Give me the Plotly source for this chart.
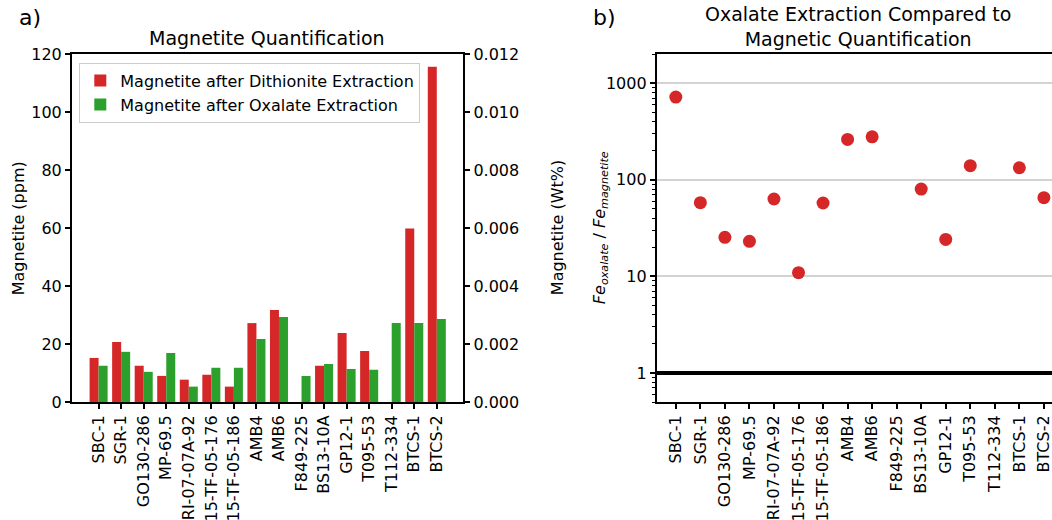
import plotly.graph_objects as go

# ---------------------------------------------------------------------------
# Data
# ---------------------------------------------------------------------------
SAMPLES = ["SBC-1", "SGR-1", "GO130-286", "MP-69.5", "RI-07-07A-92",
           "15-TF-05-176", "15-TF-05-186", "AMB4", "AMB6", "F849-225",
           "BS13-10A", "GP12-1", "T095-53", "T112-334", "BTCS-1", "BTCS-2"]

DITHIONITE_PPM = [15.2, 20.7, 12.5, 9.0, 7.7, 9.4, 5.3, 27.2, 31.7, 0.0,
                  12.5, 23.8, 17.6, 0.0, 59.8, 115.6]
OXALATE_PPM = [12.5, 17.3, 10.4, 16.9, 5.3, 11.8, 11.8, 21.7, 29.3, 9.0,
               13.1, 11.4, 11.1, 27.2, 27.2, 28.6]

FE_RATIO = [716, 57.8, 25.3, 23.0, 63.1, 10.9, 57.4, 261, 278, None,
            80, 24.1, 139.6, None, 133, 65.1]

RED = "#d62728"
GREEN = "#2ca02c"
FONT = "DejaVu Sans"
TICK_SIZE = 16

# plot-area geometry (pixels)
L, T, B = 71.7, 54.3, 117.7
W = 1052 - L
H = 520 - T - B


def px_x(x):
    return (x - L) / W


def px_y(y):
    return (520 - B - y) / H


# ---------------------------------------------------------------------------
# Figure
# ---------------------------------------------------------------------------
idx = list(range(len(SAMPLES)))
fig = go.Figure()

fig.add_trace(go.Bar(x=idx, y=DITHIONITE_PPM,
                     name="Magnetite after Dithionite Extraction",
                     marker=dict(color=RED, line=dict(width=0)),
                     xaxis="x", yaxis="y"))
fig.add_trace(go.Bar(x=idx, y=OXALATE_PPM,
                     name="Magnetite after Oxalate Extraction",
                     marker=dict(color=GREEN, line=dict(width=0)),
                     xaxis="x", yaxis="y"))
# empty trace so the secondary (Wt%) axis gets drawn
fig.add_trace(go.Scatter(x=[None], y=[None], showlegend=False, hoverinfo="skip",
                         xaxis="x", yaxis="y2"))

fig.add_trace(go.Scatter(x=idx, y=FE_RATIO,
                         mode="markers", showlegend=False,
                         marker=dict(color=RED, size=13, line=dict(width=0)),
                         xaxis="x3", yaxis="y3"))

axis_common = dict(showline=True, linecolor="black", linewidth=2,
                   ticks="outside", ticklen=5, tickwidth=1.5, tickcolor="black",
                   zeroline=False, showgrid=False, automargin=False,
                   ticklabeloverflow="allow",
                   tickfont=dict(size=TICK_SIZE, color="black", family=FONT))

minor_log = [0.5, 0.6, 0.7, 0.8, 0.9] + [k * m for m in (1, 10, 100) for k in range(2, 10)] + [2000]

fig.update_layout(
    width=1052, height=520,
    paper_bgcolor="white", plot_bgcolor="white",
    font=dict(family=FONT, color="black", size=TICK_SIZE),
    margin=dict(l=L, r=0, t=T, b=B),
    barmode="group", bargap=0.2, bargroupgap=0,
    xaxis=dict(**axis_common, domain=[0, px_x(463)], range=[-1.18, 16.17],
               mirror=True, tickangle=-90, tickmode="array",
               tickvals=idx, ticktext=SAMPLES, anchor="y"),
    yaxis=dict(**axis_common, range=[0, 120], dtick=20, anchor="x"),
    yaxis2=dict(**axis_common, range=[0, 0.012], dtick=0.002, tickformat=".3f",
                overlaying="y", side="right", anchor="x"),
    xaxis3=dict(**axis_common, domain=[px_x(656.7), 1], range=[-0.774, 15.33],
                mirror=True, tickangle=-90, tickmode="array",
                tickvals=idx, ticktext=SAMPLES, anchor="y3"),
    yaxis3=dict(**axis_common, type="log", range=[-0.301, 3.301], anchor="x3",
                tickmode="array", tickvals=[1, 10, 100, 1000],
                ticktext=["1", "10", "100", "1000"],
                minor=dict(ticks="outside", ticklen=3, tickwidth=1, tickcolor="black",
                           tickmode="array", tickvals=minor_log, showgrid=False)),
    legend=dict(x=px_x(79), y=px_y(63), xanchor="left", yanchor="top",
                bgcolor="rgba(255,255,255,0.8)", bordercolor="#cccccc", borderwidth=1,
                font=dict(size=TICK_SIZE), tracegroupgap=2),
    showlegend=True,
)

fig.layout.yaxis3.showgrid = True
fig.layout.yaxis3.gridcolor = "#d3d3d3"
fig.layout.yaxis3.gridwidth = 1.5

# Reference line at ratio = 1
fig.add_shape(type="line", xref="x3 domain", yref="y3", x0=0, x1=1, y0=1, y1=1,
              line=dict(color="black", width=4))

# Axis titles (placed by pixel to match the reference)
mid_y = px_y(228.3)
for text, x in [("Magnetite (ppm)", 18),
                ("Magnetite (Wt%)", 557),
                ("<i>Fe<sub>oxalate</sub></i> / <i>Fe<sub>magnetite</sub></i>", 600)]:
    fig.add_annotation(text=text, xref="paper", yref="paper", x=px_x(x), y=mid_y,
                       xanchor="center", yanchor="middle", textangle=-90,
                       showarrow=False, font=dict(size=TICK_SIZE))

# Titles and panel labels
fig.add_annotation(text="Magnetite Quantification", xref="paper", yref="paper",
                   x=px_x(267), y=1, yshift=3, xanchor="center", yanchor="bottom",
                   showarrow=False, font=dict(size=19))
fig.add_annotation(text="Oxalate Extraction Compared to<br>Magnetic Quantification",
                   xref="paper", yref="paper", x=px_x(858), y=1, yshift=2,
                   xanchor="center", yanchor="bottom", showarrow=False, font=dict(size=19))
fig.add_annotation(text="a)", xref="paper", yref="paper", x=px_x(17), y=1,
                   yshift=22, xanchor="left", yanchor="bottom", showarrow=False,
                   font=dict(size=22))
fig.add_annotation(text="b)", xref="paper", yref="paper", x=px_x(591), y=1,
                   yshift=22, xanchor="left", yanchor="bottom", showarrow=False,
                   font=dict(size=22))

# page body has a default 8px margin; drop it so the figure fills the window
fig.write_html("out.html", config={"displayModeBar": False},
               post_script="document.body.style.margin='0';document.body.style.overflow='hidden';")
